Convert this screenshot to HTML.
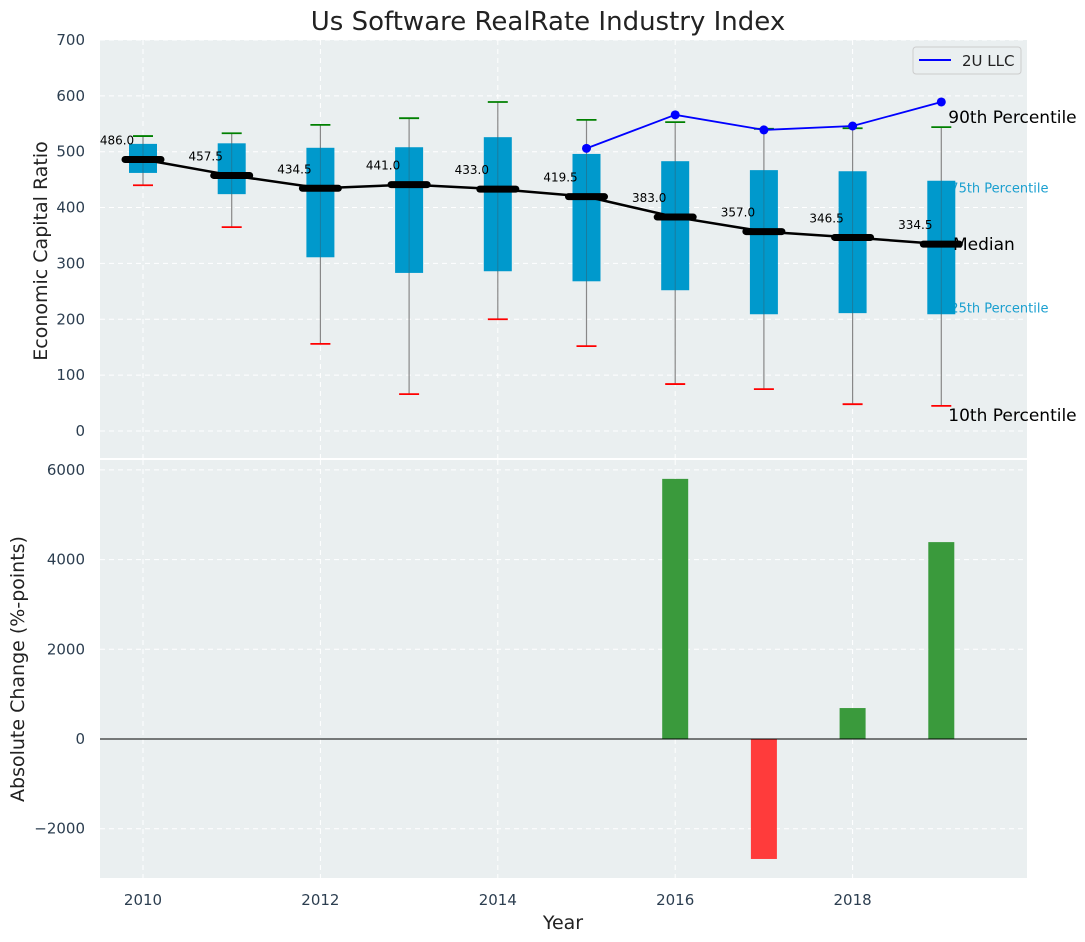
<!DOCTYPE html>
<html><head><meta charset="utf-8"><style>
body{margin:0;background:#fff;}
svg{display:block;font-family:"DejaVu Sans","Liberation Sans",sans-serif;}
</style></head><body>
<svg id="chart" width="1085" height="942" viewBox="0 0 1085 942">
<text x="548" y="30" font-size="26" text-anchor="middle" fill="#222">Us Software RealRate Industry Index</text>
<rect x="100" y="40" width="927" height="418" fill="#eaeff0"/>
<rect x="100" y="460" width="927" height="418" fill="#eaeff0"/>
<g id="grid"></g>
<g id="labels"></g>
<g id="top"></g>
<g id="bottom"></g>
<text x="47" y="251" font-size="19" text-anchor="middle" fill="#222" transform="rotate(-90 47 251)">Economic Capital Ratio</text>
<text x="24" y="669" font-size="19" text-anchor="middle" fill="#222" transform="rotate(-90 24 669)">Absolute Change (%-points)</text>
<text x="563" y="929" font-size="19" text-anchor="middle" fill="#222">Year</text>
<g>
<rect x="913" y="47" width="108" height="27" rx="3" fill="#eaeff0" stroke="#ccc"/>
<line x1="919" y1="60" x2="951" y2="60" stroke="#0000ff" stroke-width="2"/>
<text x="962" y="66" font-size="15" fill="#222">2U LLC</text>
</g>
</svg>
<script>
const years=[2010,2011,2012,2013,2014,2015,2016,2017,2018,2019];
const p90=[528,533,548,560,589,557,553,541,542,544];
const q3=[514,515,507,508,526,496,483,467,465,448];
const med=[486.0,457.5,434.5,441.0,433.0,419.5,383.0,357.0,346.5,334.5];
const q1=[462,424,311,283,286,268,252,209,211,209];
const p10=[440,365,156,66,200,152,84,75,48,45];
const coYears=[2015,2016,2017,2018,2019];
const coValues=[506,566,539,546,589];
const chgYears=[2016,2017,2018,2019];
const chgValues=[5800,-2675,690,4390];
const yTicksTop=[0,100,200,300,400,500,600,700];
const yTicksBot=[-2000,0,2000,4000,6000];
const xTicks=[2010,2012,2014,2016,2018];

const NS="http://www.w3.org/2000/svg";
const X=v=>143+(v-2010)*88.7;
const YT=v=>431-v*0.5586;
const YB=v=>739-v*0.04485;
function mk(p,tag,a,txt){const e=document.createElementNS(NS,tag);for(const k in a)e.setAttribute(k,a[k]);if(txt!==undefined)e.textContent=txt;p.appendChild(e);return e;}
const G=document.getElementById('grid'),L=document.getElementById('labels'),T=document.getElementById('top'),B=document.getElementById('bottom'),S=document.getElementById('chart');
yTicksTop.forEach(v=>{let e=mk(G,'line',{x1:100,x2:1027,y1:YT(v),y2:YT(v),stroke:'#fff','stroke-dasharray':'5,4'});

let t=mk(S,'text',{x:85,y:YT(v)+5,'font-size':15,'text-anchor':'end',fill:'#2c3e50'},v);
});
yTicksBot.forEach(v=>{let e=mk(G,'line',{x1:100,x2:1027,y1:YB(v),y2:YB(v),stroke:'#fff','stroke-dasharray':'5,4'});

let t=mk(S,'text',{x:85,y:YB(v)+5,'font-size':15,'text-anchor':'end',fill:'#2c3e50'},v<0?'\u2212'+Math.abs(v):v);
});
xTicks.forEach(v=>{[[40,458],[460,878]].forEach(r=>{let e=mk(G,'line',{x1:X(v),x2:X(v),y1:r[0],y2:r[1],stroke:'#fff','stroke-dasharray':'5,4'});
});
let t=mk(S,'text',{x:X(v),y:905,'font-size':15,'text-anchor':'middle',fill:'#2c3e50'},v);
});
const li=years.length-1,lx=X(years[li])+7;
[[YT(p90[li])-10,'90th Percentile',17,'#000'],[YT(q3[li])+7,'75th Percentile',13,'#1a9fcf'],[YT(q1[li])-7,'25th Percentile',13,'#1a9fcf'],[YT(p10[li])+9,'10th Percentile',17,'#000']].forEach(d=>{
let t=mk(L,'text',{x:lx+(d[2]==13?2:0),y:d[0]+(d[2]==17?6:5),'font-size':d[2],fill:d[3]},d[1]);
});
years.forEach((y,i)=>{const x=X(y);
let w=mk(T,'line',{x1:x,x2:x,y1:YT(p90[i]),y2:YT(p10[i]),stroke:'#888','stroke-width':1.2});

let b=mk(T,'rect',{x:x-14,y:YT(q3[i]),width:28,height:YT(q1[i])-YT(q3[i]),fill:'#0099cc'});

mk(T,'line',{x1:x,x2:x,y1:YT(q3[i]),y2:YT(q1[i]),stroke:'#2a6a80','stroke-width':1,opacity:0.6});
let c1=mk(T,'line',{x1:x-10,x2:x+10,y1:YT(p90[i]),y2:YT(p90[i]),stroke:'green','stroke-width':1.8});

let c2=mk(T,'line',{x1:x-10,x2:x+10,y1:YT(p10[i]),y2:YT(p10[i]),stroke:'red','stroke-width':1.8});
});
let ml=mk(T,'polyline',{points:years.map((y,i)=>X(y)+','+YT(med[i])).join(' '),fill:'none',stroke:'#000','stroke-width':2.5});

years.forEach((y,i)=>{const x=X(y);
let m=mk(T,'line',{x1:x-18,x2:x+18,y1:YT(med[i]),y2:YT(med[i]),stroke:'#000','stroke-width':7,'stroke-linecap':'round'});

let t=mk(T,'text',{x:x-26,y:YT(med[i])-15,'font-size':12,'text-anchor':'middle',fill:'#000'},med[i].toFixed(1));
});
let ml2=mk(T,'text',{x:953,y:YT(med[li])+6,'font-size':17,fill:'#000'},'Median');

let cl=mk(T,'polyline',{points:coYears.map((y,i)=>X(y)+','+YT(coValues[i])).join(' '),fill:'none',stroke:'#0000ff','stroke-width':1.8});

coYears.forEach((y,i)=>{let p=mk(T,'circle',{cx:X(y),cy:YT(coValues[i]),r:4.5,fill:'#0000ff'});
});
chgYears.forEach((y,i)=>{const v=chgValues[i],x=X(y);
let r=mk(B,'rect',{x:x-13,y:Math.min(YB(v),YB(0)),width:26,height:Math.abs(YB(v)-YB(0)),fill:v>=0?'#3a9a3c':'#ff3b3b'});
});
let z=mk(B,'line',{x1:100,x2:1027,y1:YB(0),y2:YB(0),stroke:'#000','stroke-width':1});

</script>
</body></html>
